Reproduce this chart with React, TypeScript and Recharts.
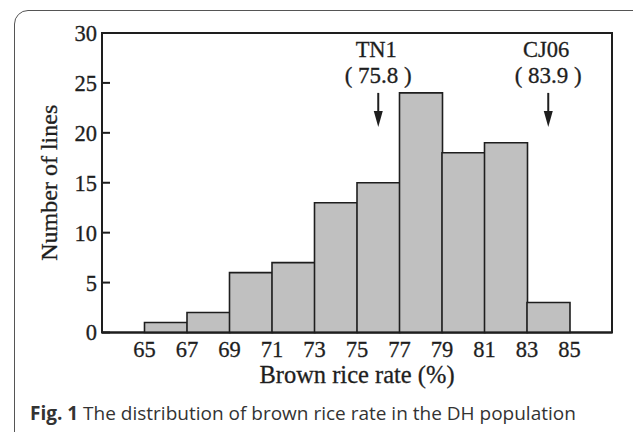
import React from 'react';
import { ComposedChart, Bar, XAxis, YAxis, ReferenceArea, ReferenceDot } from 'recharts';

const binStarts = [65, 67, 69, 71, 73, 75, 77, 79, 81, 83];
const lineCounts = [1, 2, 6, 7, 13, 15, 24, 18, 19, 3];
const xTicks = [65, 67, 69, 71, 73, 75, 77, 79, 81, 83, 85];
const yTicks = [0, 5, 10, 15, 20, 25, 30];
const markerNames = ['TN1', 'CJ06'];
const markerLabels = ['( 75.8 )', '( 83.9 )'];
const markerX = [76, 84];
const markerTop = 24;

const data = binStarts.map((s, i) => ({ mid: s + 1, count: lineCounts[i] }));

const SERIF = '"Liberation Serif", "DejaVu Serif", serif';
const INK = '#1e1e1e';

const Marker = (name: string, label: string) => (props: any) => {
  const { cx, cy } = props;
  return (
    <g>
      <text x={cx - 2} y={cy - 36} textAnchor="middle" fontFamily={SERIF} fontSize={22.5} fill={INK} stroke={INK} strokeWidth={0.3}>{name}</text>
      <text x={cx} y={cy - 9.5} textAnchor="middle" fontFamily={SERIF} fontSize={23} fill={INK} stroke={INK} strokeWidth={0.3}>{label}</text>
      <line x1={cx} y1={cy} x2={cx} y2={cy + 22} stroke={INK} strokeWidth={2} />
      <path d={`M ${cx - 4.5} ${cy + 18} L ${cx + 4.5} ${cy + 18} L ${cx} ${cy + 34} Z`} fill={INK} />
    </g>
  );
};

export default function App() {
  return (
    <div style={{ position: 'absolute', left: 0, top: 0, width: 633, height: 432, overflow: 'hidden', background: '#fff' }}>
      <div style={{ position: 'absolute', left: 14, top: 10, width: 700, height: 500, border: '1.5px solid #555', borderRadius: 14, boxSizing: 'border-box' }} />
      <div style={{ position: 'absolute', left: 0, top: 0 }}>
        <ComposedChart width={633} height={432} data={data} margin={{ top: 33, right: 21, bottom: 39.5, left: 0 }} barCategoryGap={0} barGap={0}>
          <XAxis
            type="number"
            dataKey="mid"
            domain={[63, 87]}
            ticks={xTicks}
            interval={0}
            height={60}
            tickLine={false}
            tickSize={0}
            tickMargin={9}
            axisLine={{ stroke: INK, strokeWidth: 2 }}
            tick={{ fontFamily: SERIF, fontSize: 22.5, fill: INK, stroke: INK, strokeWidth: 0.3 }}
            label={{ value: 'Brown rice rate (%)', position: 'insideBottom', offset: 9.5, style: { fontFamily: SERIF, fontSize: 24.5, fill: INK, stroke: INK, strokeWidth: 0.3 } }}
          />
          <YAxis
            type="number"
            domain={[0, 30]}
            ticks={yTicks}
            interval={0}
            width={102}
            tickSize={-8}
            tickMargin={13}
            tickLine={{ stroke: INK, strokeWidth: 2 }}
            axisLine={{ stroke: INK, strokeWidth: 2 }}
            tick={{ fontFamily: SERIF, fontSize: 22.5, fill: INK, stroke: INK, strokeWidth: 0.3 }}
            label={{ value: 'Number of lines', angle: -90, position: 'insideLeft', offset: 48, style: { fontFamily: SERIF, fontSize: 24, fill: INK, stroke: INK, strokeWidth: 0.3, textAnchor: 'middle' } }}
          />
          <Bar dataKey="count" fill="#c0c0c0" stroke={INK} strokeWidth={1.6} isAnimationActive={false} />
          <ReferenceArea x1={63} x2={87} y1={0} y2={30} fill="none" stroke={INK} strokeWidth={2} ifOverflow="visible" />
          {markerX.map((x, i) => (
            <ReferenceDot key={markerNames[i]} x={x} y={markerTop} r={0} shape={Marker(markerNames[i], markerLabels[i])} />
          ))}
        </ComposedChart>
      </div>
      <div style={{ position: 'absolute', left: 30, top: 400, fontFamily: '"Open Sans", sans-serif', fontSize: 19, color: '#333', whiteSpace: 'nowrap' }}>
        <b>Fig. 1</b> The distribution of brown rice rate in the DH population
      </div>
    </div>
  );
}
